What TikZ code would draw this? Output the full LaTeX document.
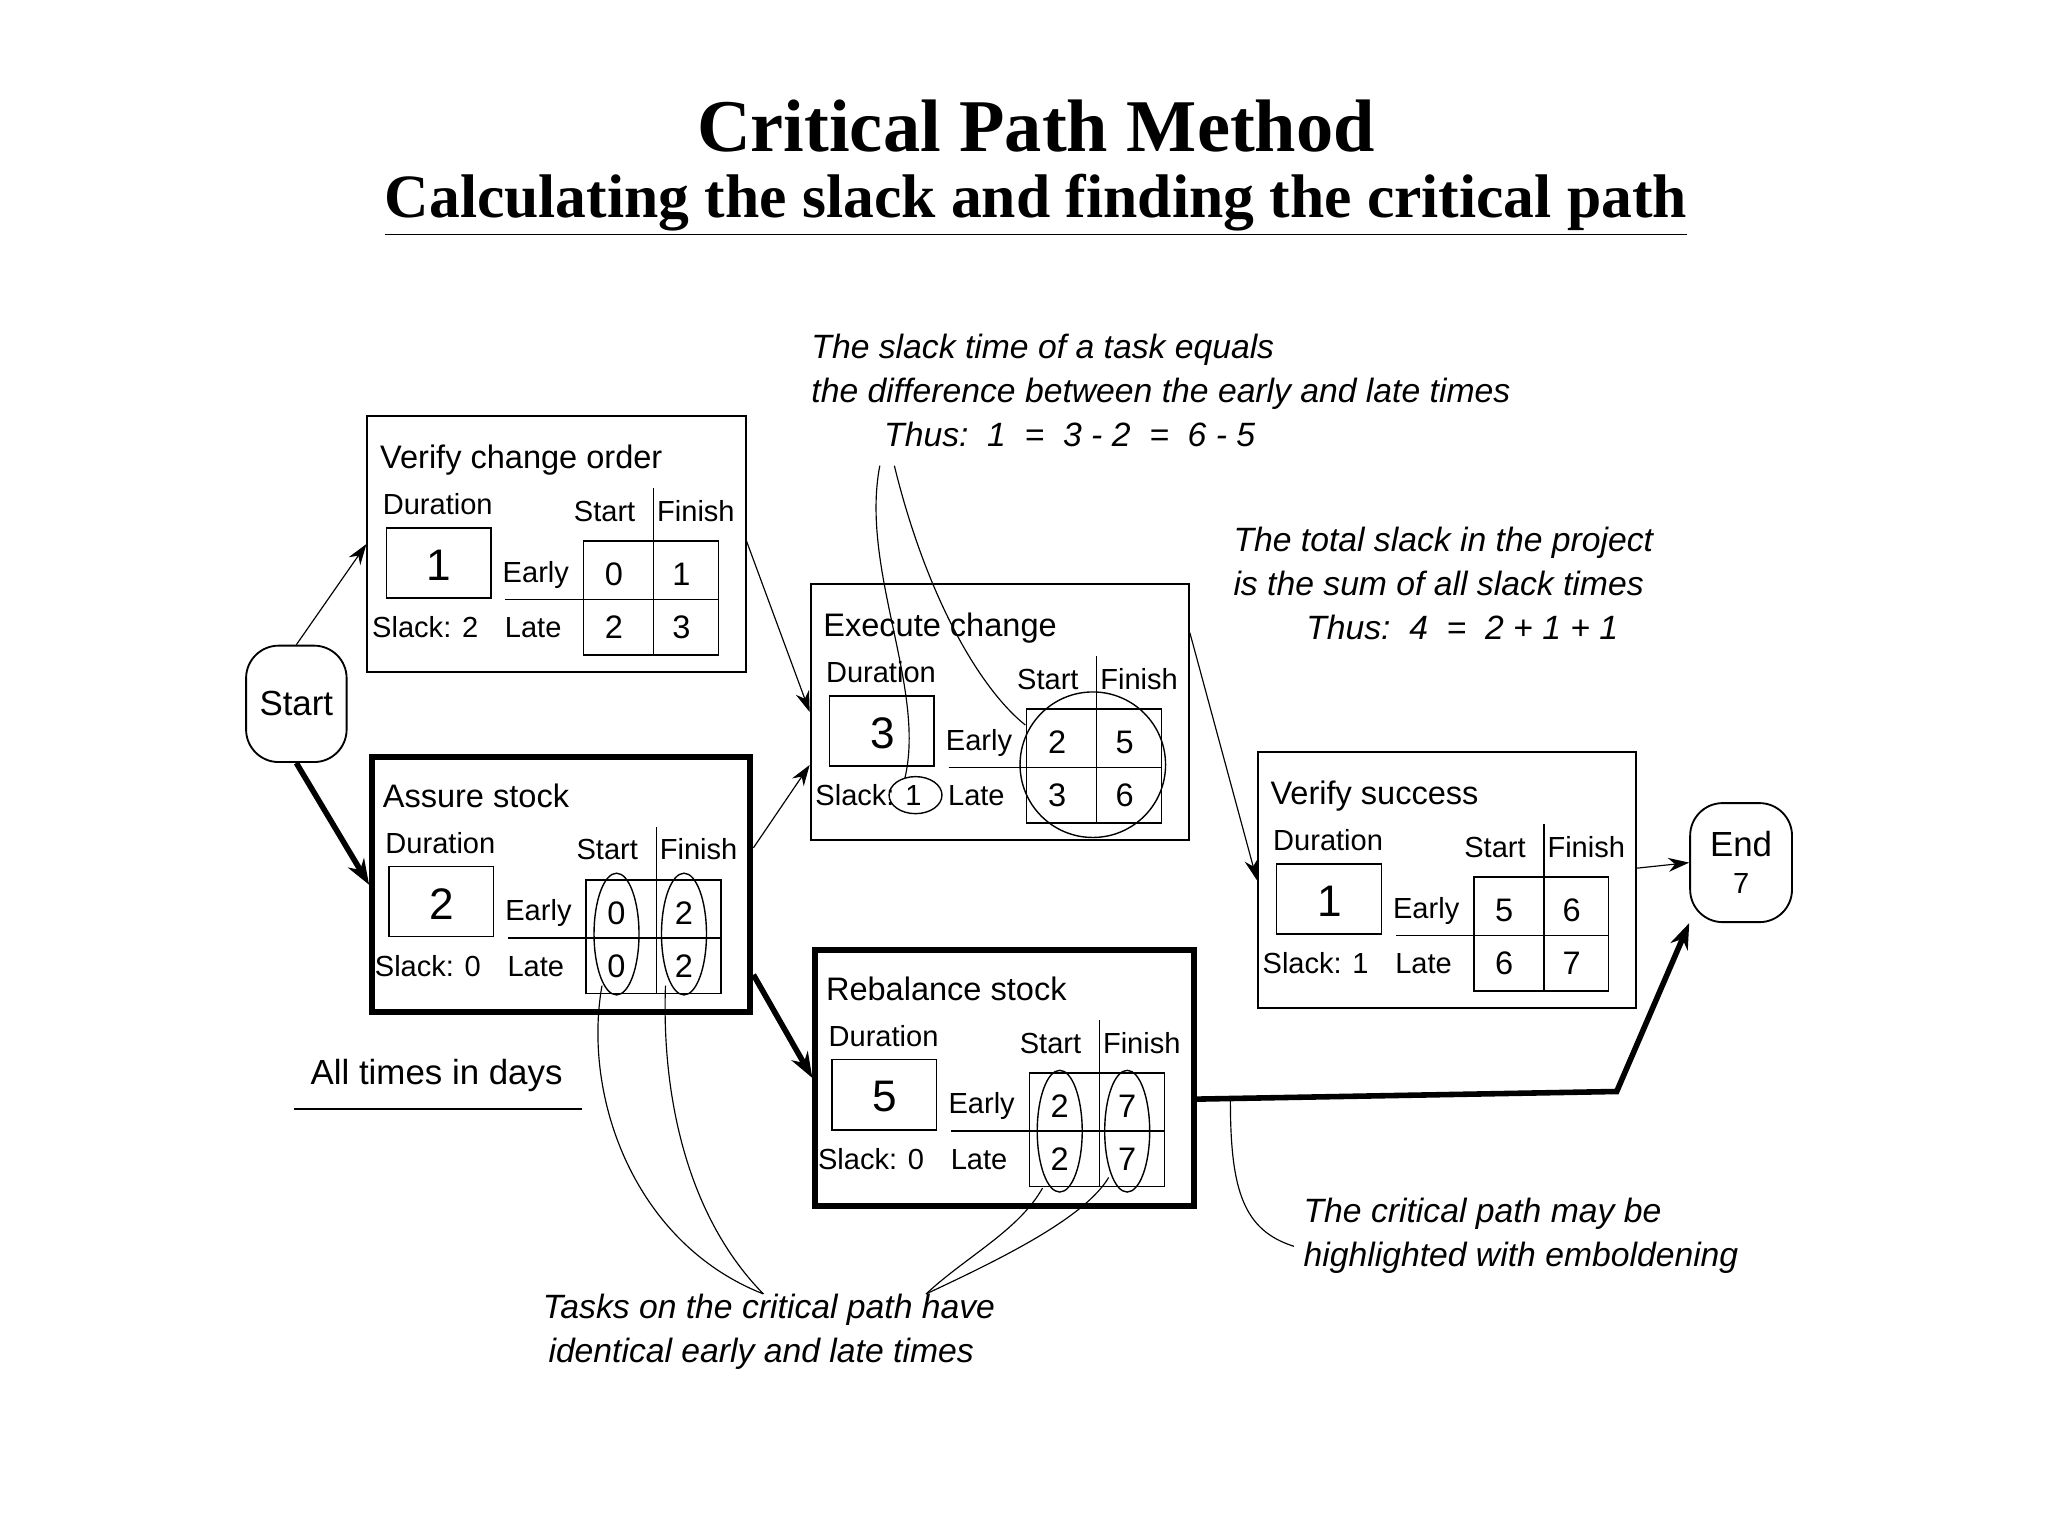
\documentclass[tikz,border=0pt]{standalone}
\usepackage{fontspec}
\setmainfont{Liberation Sans}
\newfontfamily\titlefont{Liberation Serif}
\usetikzlibrary{arrows.meta}
\tikzset{
 bx/.style={font=\fontsize{14}{16}\selectfont, inner sep=0},
 ann/.style={font=\fontsize{14.5}{19}\selectfont\itshape, inner sep=0, align=left},
 thin arr/.style={-{Stealth[length=9pt,width=6pt]}, line width=0.5pt},
 thick arr/.style={-{Stealth[length=11pt,width=8pt]}, line width=2.4pt},
 lead/.style={line width=0.5pt},
}
\newcommand\tbox[9]{%
 \path (#2,#3) node[anchor=north west, draw, line width=#9, minimum width=5.72cm, minimum height=3.86cm, inner sep=0] (#1) {};
 \begin{scope}[shift={(#2,#3)}]
  \node[bx, anchor=base west] at (10,40) {#4};
  \node[bx, anchor=base west, font=\fontsize{12.5}{15}\selectfont] at (12,75) {Duration};
  \draw[line width=0.6pt] (15,85) rectangle (94,138);
  \node[bx, font=\fontsize{19}{21}\selectfont] at (55,113) {#5};
  \node[bx, anchor=base west, font=\fontsize{12.5}{15}\selectfont] at (4,168) {Slack: #6};
  \node[bx, anchor=base, font=\fontsize{12.5}{15}\selectfont] at (180,80) {Start};
  \node[bx, anchor=base, font=\fontsize{12.5}{15}\selectfont] at (249,80) {Finish};
  \draw[line width=0.6pt] (217,55) -- (217,95);
  \draw[line width=0.6pt] (164,95) rectangle (266,181);
  \draw[line width=0.6pt] (217,95) -- (217,181);
  \draw[line width=0.6pt] (105,139) -- (266,139);
  \node[bx, anchor=base, font=\fontsize{12.5}{15}\selectfont] at (128,126) {Early};
  \node[bx, anchor=base, font=\fontsize{12.5}{15}\selectfont] at (126,168) {Late};
  \node[bx] at (187,120) {#7};
  \node[bx] at (238,120) {#8};
  \node[bx] at (187,160) {\the\numexpr#7+#6\relax};
  \node[bx] at (238,160) {\the\numexpr#8+#6\relax};
 \end{scope}}
\begin{document}
\begin{tikzpicture}[x=0.02cm,y=-0.02cm]
\useasboundingbox (0,0) rectangle (1548,1161);
\node[font=\fontsize{32}{36}\selectfont\titlefont\bfseries, inner sep=0] (t1) at (783,95) {Critical Path Method};
\node[font=\fontsize{26.5}{30}\selectfont\titlefont\bfseries, inner sep=0] (t2) at (783,155) {\underline{Calculating the slack and finding the critical path}};

\tbox{vco}{277}{314}{Verify change order}{1}{2}{0}{1}{0.8pt}
\tbox{as}{279}{570}{Assure stock}{2}{0}{0}{2}{2.6pt}
\tbox{ec}{612}{441}{Execute change}{3}{1}{2}{5}{0.8pt}
\tbox{rs}{614}{716}{Rebalance stock}{5}{0}{2}{7}{2.6pt}
\tbox{vs}{950}{568}{Verify success}{1}{1}{5}{6}{0.8pt}

\node[draw, rounded corners=14pt, line width=0.8pt, minimum width=1.52cm, minimum height=1.76cm, font=\fontsize{15}{18}\selectfont] (start) at (224,532) {Start};
\node[draw, rounded corners=14pt, line width=0.8pt, minimum width=1.54cm, minimum height=1.8cm, align=center, font=\fontsize{15}{18}\selectfont] (end) at (1316,652) {End\\[-2pt]{\fontsize{12.5}{15}\selectfont 7}};

% connectors
\draw[thin arr] (start.north) -- (vco.west);
\draw[thick arr] (start.south) -- (as.west);
\draw[thin arr] (vco.east) ++(0,-2) -- (ec.west);
\draw[thin arr] (as.east) ++(0,-28) -- ([yshift=-0.8cm]ec.west);
\draw[thick arr] (as.east) ++(0,68) -- (rs.west);
\draw[thin arr] (ec.east) ++(0,-60) -- (vs.west);
\draw[thin arr] (vs.east) ++(0,-9) -- (end.west);
\coordinate (bend) at (1222,825);
\draw[thick arr] (rs.east) ++(0,16) -- (bend) -- (end.south west);

% ellipses
\draw[line width=0.6pt] (466,706) ellipse (17 and 46);
\draw[line width=0.6pt] (517,706) ellipse (17 and 46);
\draw[line width=0.6pt] (801,855) ellipse (17 and 46);
\draw[line width=0.6pt] (852,855) ellipse (17 and 46);
\draw[line width=0.6pt] (826,578) circle (55);
\draw[line width=0.6pt] (692,601) ellipse (20 and 14);

% annotations
\node[ann, anchor=north west] (a1) at (613,252) {The slack time of a task equals\\the difference between the early and late times\\\hspace*{1.1cm}Thus:\ \ 1 \ = \ 3 - 2 \ = \ 6 - 5};
\node[ann, anchor=north west] (a2) at (932,398) {The total slack in the project\\is the sum of all slack times\\\hspace*{1.1cm}Thus:\ \ 4 \ = \ 2 + 1 + 1};
\node[ann, anchor=north west] (a3) at (985,905) {The critical path may be\\highlighted with emboldening};
\node[ann, anchor=north west] (a4) at (410,978) {Tasks on the critical path have\\\,identical early and late times};
\node[bx, font=\fontsize{15}{18}\selectfont] (days) at (330,813) {All times in days};
\coordinate (u1) at (222,838); \coordinate (u2) at (440,838);
\draw[line width=0.8pt] (u1) -- (u2);

% leader curves
\coordinate (l1) at (665,352); \coordinate (l2) at (676,352);
\draw[lead] (l1) .. controls (650,430) and (700,520) .. (684,588);
\draw[lead] (l2) .. controls (700,450) and (740,520) .. (775,548);
\coordinate (l3) at (577,978); \coordinate (l4) at (700,978);
\draw[lead] (l3) .. controls (480,940) and (440,830) .. (455,745);
\draw[lead] (l3) .. controls (520,920) and (500,830) .. (503,745);
\draw[lead] (l4) .. controls (730,950) and (770,930) .. (788,898);
\draw[lead] (l4) .. controls (760,950) and (820,920) .. (838,890);
\coordinate (l5) at (978,942);
\draw[lead] (l5) .. controls (940,930) and (930,900) .. (930,832);
\end{tikzpicture}
\end{document}
